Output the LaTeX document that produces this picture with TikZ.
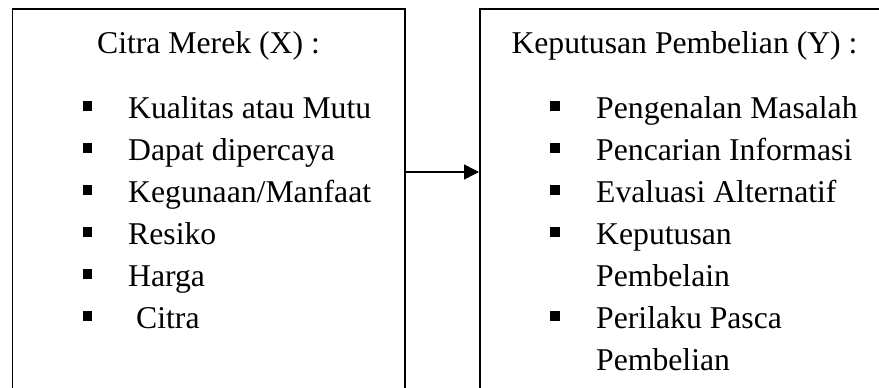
\documentclass[tikz,border=0pt]{standalone}
\usepackage{fontspec}
\setmainfont{Liberation Serif}
\usetikzlibrary{arrows.meta}
\begin{document}
\begin{tikzpicture}[x=1pt,y=-1pt,
  boxnode/.style={draw, line width=1.7pt, inner sep=0pt, anchor=north west},
  txt/.style={anchor=base west, inner sep=0pt, font=\fontsize{31.7}{42}\selectfont},
  ttl/.style={anchor=base, inner sep=0pt, font=\fontsize{31.7}{42}\selectfont},
  bul/.style={fill=black, inner sep=0pt, minimum size=9.5pt, anchor=center},
  conn/.style={line width=1.7pt, -{Triangle[length=15pt,width=15pt]}}]
\useasboundingbox (0,0) rectangle (879,388);
\clip (0,0) rectangle (879,388);
\node[boxnode, minimum width=392.5pt, minimum height=430pt] (X) at (11.5,8) {};
\node[boxnode, minimum width=450pt, minimum height=430pt] (Y) at (479,8) {};
% titles
\node[ttl] (tX) at (208.5,53) {Citra Merek (X) :};
\node[ttl] (tY) at (684.5,53) {Keputusan Pembelian (Y) :};
% left items
\foreach \i/\t/\xx in {0/Kualitas atau Mutu/128, 1/Dapat dipercaya/128, 2/Kegunaan\slash Manfaat/128, 3/Resiko/128, 4/Harga/128, 5/Citra/136}{
  \node[bul] (bx\i) at (87.5,{118+42*\i-12}) {};
  \node[txt] (lx\i) at (\xx,{118+42*\i}) {\t};
}
% right items
\node[bul] (by0) at (555,{118-12}) {};
\node[txt] (ly0) at (596,118) {Pengenalan Masalah};
\node[bul] (by1) at (555,{160-12}) {};
\node[txt] (ly1) at (596,160) {Pencarian Informasi};
\node[bul] (by2) at (555,{202-12}) {};
\node[txt] (ly2) at (596,202) {Evaluasi Alternatif};
\node[bul] (by3) at (555,{244-12}) {};
\node[txt] (ly3) at (596,244) {Keputusan};
\node[txt] (ly4) at (596,286) {Pembelain};
\node[bul] (by5) at (555,{328-12}) {};
\node[txt] (ly5) at (596,328) {Perilaku Pasca};
\node[txt] (ly6) at (596,370) {Pembelian};
% connector
\coordinate (ay) at (0,172);
\draw[conn] (X.east |- ay) -- (Y.west |- ay);
\end{tikzpicture}
\end{document}
